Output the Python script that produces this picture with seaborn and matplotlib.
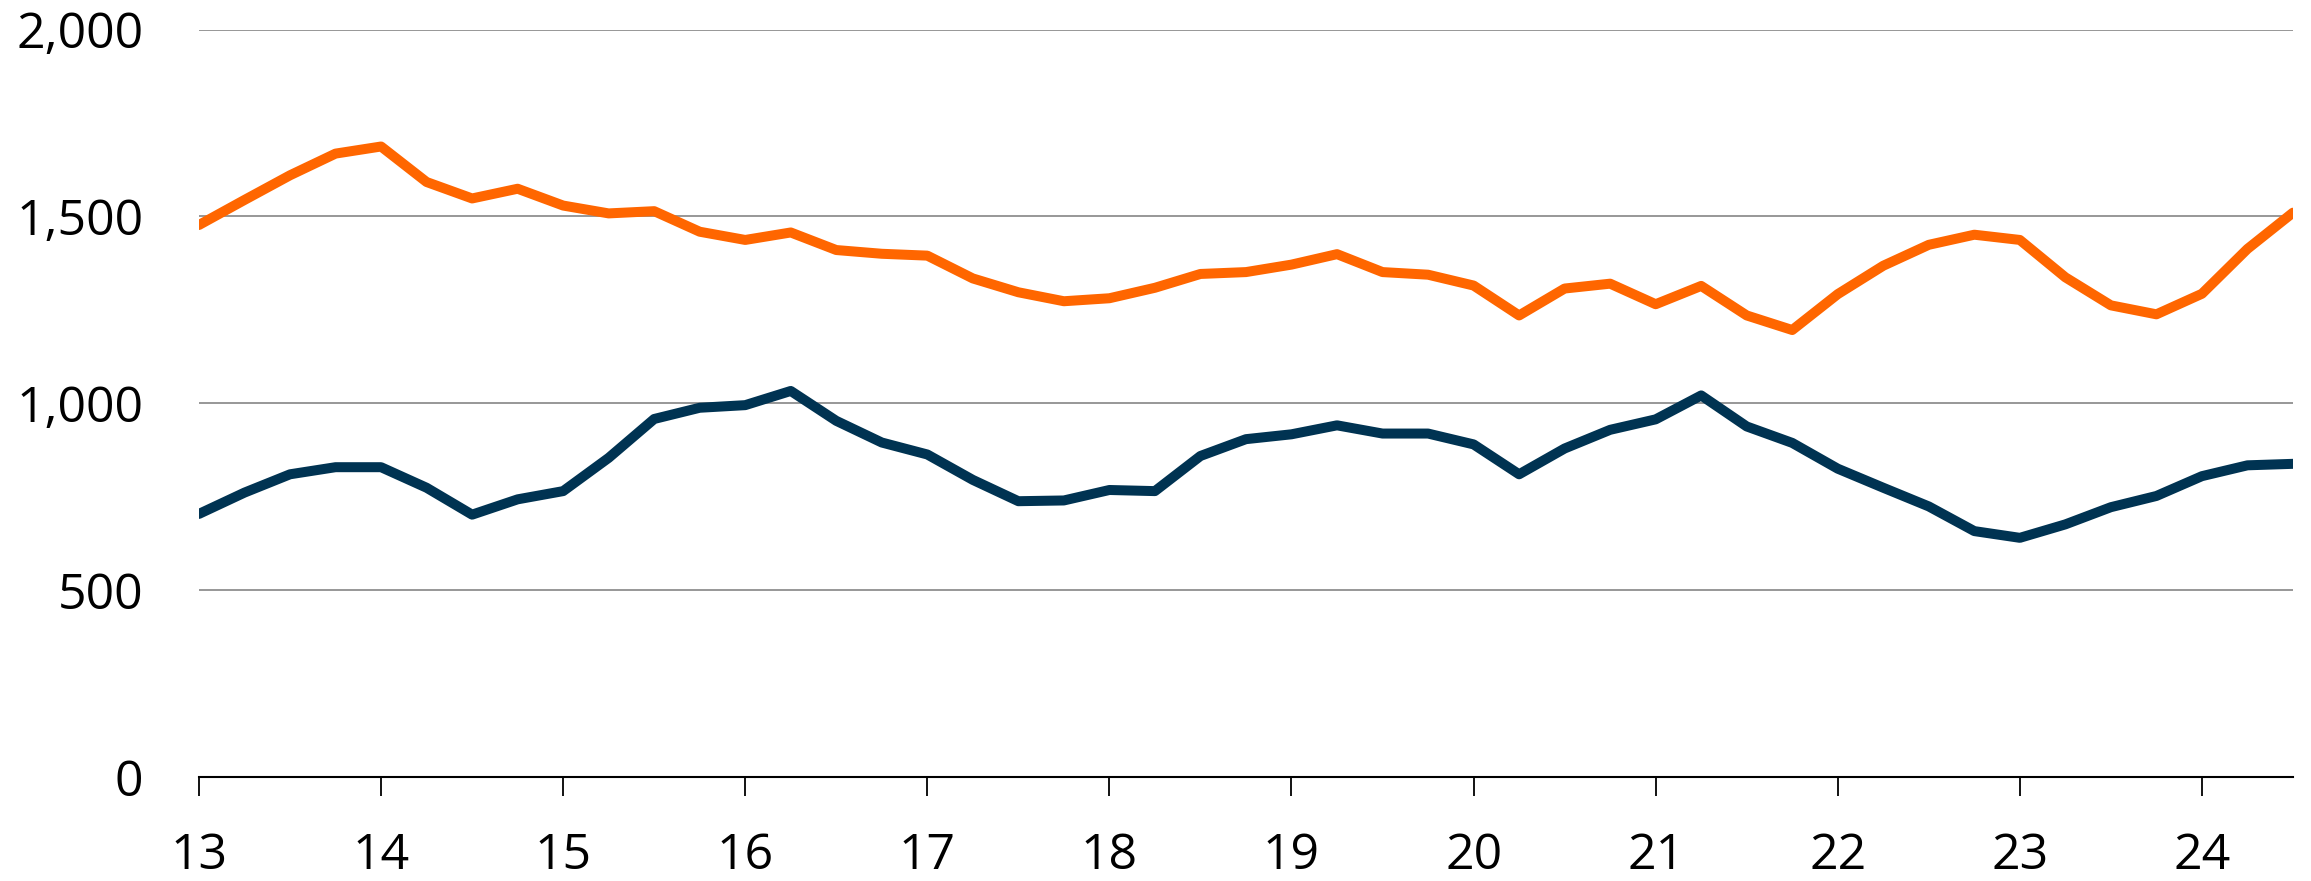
import numpy as np
import pandas as pd
import seaborn as sns
import matplotlib.pyplot as plt

# quarterly positions, 2013 Q1 .. 2024 Q3 (x axis shows two-digit years)
quarter = np.arange(13, 24.5001, 0.25)

orange = [1477, 1544, 1610, 1668, 1687, 1592, 1548, 1574, 1529, 1508, 1514, 1459,
          1437, 1457, 1410, 1400, 1395, 1334, 1297, 1273, 1281, 1309, 1346, 1351,
          1371, 1399, 1351, 1344, 1315, 1235, 1307, 1320, 1265, 1314, 1235, 1196,
          1292, 1368, 1424, 1451, 1437, 1337, 1262, 1238, 1293, 1413, 1510]

navy = [704, 761, 810, 829, 829, 774, 702, 743, 765, 854, 958, 988,
        995, 1033, 953, 895, 863, 795, 738, 740, 768, 765, 859, 904,
        917, 941, 919, 919, 890, 810, 879, 929, 957, 1021, 938, 894,
        825, 774, 724, 658, 640, 676, 722, 752, 805, 834, 838]

year_ticks = list(range(13, 25))
y_ticks = [0, 500, 1000, 1500, 2000]

df = pd.DataFrame({
    "x": np.concatenate([quarter, quarter]),
    "value": orange + navy,
    "series": ["orange"] * len(orange) + ["navy"] * len(navy),
})

sns.set_style("white")
plt.rcParams['font.family'] = ['Open Sans', 'DejaVu Sans']

fig = plt.figure(figsize=(23.11, 8.81), dpi=100)
ax = fig.add_axes([0.0861, 0.118, 0.9922 - 0.0861, 0.9665 - 0.118])

sns.lineplot(data=df, x="x", y="value", hue="series",
             palette={"orange": "#FF6600", "navy": "#003352"},
             linewidth=7.2, legend=False, ax=ax,
             solid_capstyle="round", solid_joinstyle="round")

ax.set_xlim(13, 24.5)
ax.set_ylim(0, 2000)
ax.set_yticks(y_ticks)
ax.set_yticklabels([f"{v:,}" for v in y_ticks])
ax.set_xticks(year_ticks)
ax.set_xticklabels([str(y) for y in year_ticks])
ax.set_xlabel("")
ax.set_ylabel("")

ax.yaxis.grid(True, color="#8f8f8f", linewidth=1.3)
ax.set_axisbelow(True)
for s in ["top", "right", "left"]:
    ax.spines[s].set_visible(False)
ax.spines["bottom"].set_color("black")
ax.spines["bottom"].set_linewidth(1.5)

ax.tick_params(axis="y", left=False, length=0, pad=40, labelsize=36,
               labelcolor="black")
ax.tick_params(axis="x", bottom=True, direction="out", length=13.5, width=1.3,
               color="black", pad=26, labelsize=36, labelcolor="black")

fig.savefig("out.png", dpi=100, facecolor="white")
